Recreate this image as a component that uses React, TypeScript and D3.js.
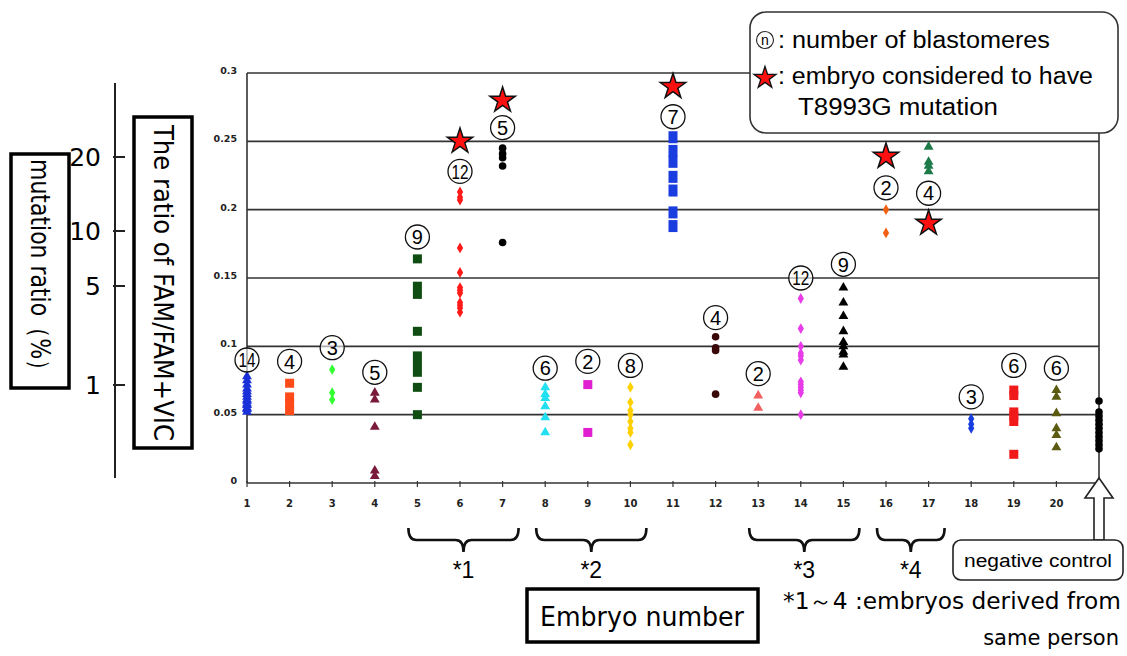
import React from "react";
import * as d3 from "d3";

const W = 1127;
const H = 656;

// embryo number -> marker / colour / values
const embryos = [1, 2, 3, 4, 5, 6, 7, 8, 9, 10, 11, 12, 13, 14, 15, 16, 17, 18, 19, 20];
const shapes = [
  "tri", "sq", "dia", "tri", "sq", "dia", "cir", "tri", "sq", "dia",
  "rect", "cir", "tri", "dia", "tri", "dia", "tri", "dia", "sq", "tri"
];
const colors = [
  "#1a30d8", "#ff4a1a", "#33ff33", "#7a1a3a", "#0f4d12", "#ff1a1a", "#000000", "#22e0f0", "#e020d0", "#ffd000",
  "#1a3de0", "#3a0808", "#f06060", "#e83ce8", "#000000", "#f06010", "#1f7a4a", "#1a3de0", "#f01a1a", "#5a5a10"
];
const values: number[][] = [
  [0.052, 0.054, 0.055, 0.057, 0.058, 0.06, 0.061, 0.063, 0.065, 0.067, 0.069, 0.072, 0.075, 0.078],
  [0.073, 0.063, 0.058, 0.053],
  [0.083, 0.066, 0.061],
  [0.066, 0.061, 0.041, 0.009, 0.005],
  [0.164, 0.144, 0.138, 0.111, 0.093, 0.087, 0.081, 0.07, 0.05],
  [0.213, 0.209, 0.207, 0.172, 0.154, 0.143, 0.141, 0.139, 0.132, 0.13, 0.128, 0.125],
  [0.245, 0.241, 0.238, 0.232, 0.176],
  [0.07, 0.065, 0.062, 0.056, 0.048, 0.037],
  [0.072, 0.037],
  [0.07, 0.059, 0.053, 0.05, 0.045, 0.04, 0.037, 0.028],
  [0.253, 0.243, 0.235, 0.224, 0.214, 0.198, 0.188],
  [0.107, 0.099, 0.097, 0.065],
  [0.064, 0.055],
  [0.135, 0.113, 0.1, 0.095, 0.093, 0.09, 0.074, 0.072, 0.07, 0.068, 0.066, 0.05],
  [0.143, 0.132, 0.122, 0.111, 0.103, 0.1, 0.096, 0.094, 0.085],
  [0.2, 0.183],
  [0.246, 0.235, 0.232, 0.228],
  [0.047, 0.043, 0.04],
  [0.068, 0.064, 0.052, 0.049, 0.045, 0.021],
  [0.068, 0.063, 0.051, 0.04, 0.035, 0.026]
];
const blastomeres = [14, 4, 3, 5, 9, 12, 5, 6, 2, 8, 7, 4, 2, 12, 9, 2, 4, 3, 6, 6];
const labelAt = [
  0.09, 0.089, 0.099, 0.081, 0.18, 0.228, 0.26, 0.084, 0.089, 0.086,
  0.268, 0.121, 0.08, 0.15, 0.16, 0.216, 0.212, 0.063, 0.086, 0.084
];
const starEmbryos = [6, 7, 11, 16, 17];
const starValues = [0.25, 0.28, 0.29, 0.239, 0.19];
const negativeControl = [0.06, 0.052, 0.049, 0.046, 0.043, 0.04, 0.037, 0.034, 0.031, 0.028, 0.025];
const groupLabels = ["*1", "*2", "*3", "*4"];
const groupFrom = [5, 8, 13, 16];
const groupTo = [7, 10, 15, 17];
const yTicks = [0, 0.05, 0.1, 0.15, 0.2, 0.25, 0.3];
const pctTicks = [1, 5, 10, 20];

const x = d3.scaleLinear().domain([1, 21]).range([247, 1099]);
const y = d3.scaleLinear().domain([0, 0.3]).range([483, 73]);
// the % axis on the left is not linear in the original; map its ticks piecewise
const pct = d3.scaleLinear().domain([1, 5, 10, 20]).range([385, 286, 231, 157]);

const sans = "'Liberation Sans', Arial, sans-serif";
const tahoma = "'DejaVu Sans', Verdana, sans-serif";

const triangle = d3.symbol(d3.symbolTriangle, 42)();
const diamond = d3.symbol(d3.symbolDiamond, 34)();
const star = d3.symbol(d3.symbolStar, 200)();
const legendStar = d3.symbol(d3.symbolStar, 150)();

const Marker = ({ shape, cx, cy, color }: { shape: string; cx: number; cy: number; color: string }) => {
  if (shape === "tri") return <path d={triangle} transform={`translate(${cx},${cy})`} fill={color} />;
  if (shape === "dia") return <path d={diamond} transform={`translate(${cx},${cy})`} fill={color} />;
  if (shape === "cir") return <circle cx={cx} cy={cy} r={3.8} fill={color} />;
  if (shape === "rect") return <rect x={cx - 4.5} y={cy - 6} width={9} height={12} fill={color} />;
  return <rect x={cx - 4.5} y={cy - 4.5} width={9} height={9} fill={color} />;
};

const brace = (x0: number, x1: number, top: number) => {
  const mid = (x0 + x1) / 2;
  const y1 = top + 12;
  const y2 = top + 24;
  const r = 8;
  return `M${x0},${top} Q${x0},${y1} ${x0 + r},${y1} L${mid - r},${y1} Q${mid},${y1} ${mid},${y2} Q${mid},${y1} ${mid + r},${y1} L${x1 - r},${y1} Q${x1},${y1} ${x1},${top}`;
};

export default function App() {
  const [x0, x1] = x.range();
  return (
    <svg width={W} height={H} style={{ display: "block", position: "absolute", left: 0, top: 0, background: "white" }}>
      <rect width={W} height={H} fill="white" />

      {/* left: % scale and the two rotated titles */}
      <line x1={115} x2={115} y1={83} y2={478} stroke="#222" strokeWidth={2} />
      {pctTicks.map((t) => (
        <g key={t}>
          <line x1={113} x2={125} y1={pct(t)} y2={pct(t)} stroke="#222" strokeWidth={2} />
          <text x={101} y={pct(t)} dy="0.36em" textAnchor="end" fontFamily={tahoma} fontSize={25}>
            {t}
          </text>
        </g>
      ))}
      <rect x={11} y={154} width={58} height={234} fill="none" stroke="#000" strokeWidth={3.5} />
      <text
        transform="translate(40,270) rotate(90)"
        textAnchor="middle"
        dy="0.35em"
        fontFamily={tahoma}
        fontSize={26}
        textLength={222}
        lengthAdjust="spacingAndGlyphs"
      >
        mutation ratio（%）
      </text>
      <rect x={134} y={117} width={58} height={331} fill="none" stroke="#000" strokeWidth={3.5} />
      <text
        transform="translate(163,283) rotate(90)"
        textAnchor="middle"
        dy="0.35em"
        fontFamily={tahoma}
        fontSize={26}
        textLength={316}
        lengthAdjust="spacingAndGlyphs"
      >
        The ratio of FAM/FAM+VIC
      </text>

      {/* grid and frame */}
      {yTicks.map((t) => (
        <g key={t}>
          {t > 0 && <line x1={x0} x2={x1} y1={y(t)} y2={y(t)} stroke="#333" strokeWidth={1.6} />}
          <text x={237} y={y(t)} dy="0.1em" textAnchor="end" fontFamily={tahoma} fontWeight="bold" fontSize={9.5} fill="#222">
            {t}
          </text>
        </g>
      ))}
      <line x1={x0} x2={x1} y1={y(0)} y2={y(0)} stroke="#333" strokeWidth={1.6} />
      <line x1={x0} x2={x0} y1={y(0.3)} y2={y(0)} stroke="#333" strokeWidth={1.6} />
      <line x1={x1} x2={x1} y1={y(0.3)} y2={y(0)} stroke="#333" strokeWidth={1.6} />
      {embryos.map((e) => (
        <g key={e}>
          <line x1={x(e)} x2={x(e)} y1={y(0) - 2} y2={y(0) + 4} stroke="#333" strokeWidth={1.2} />
          <text x={x(e)} y={507} textAnchor="middle" fontFamily={tahoma} fontWeight="bold" fontSize={10} fill="#222">
            {e}
          </text>
        </g>
      ))}

      {/* points */}
      {embryos.map((e, i) =>
        values[i].map((v, j) => <Marker key={`${e}-${j}`} shape={shapes[i]} cx={x(e)} cy={y(v)} color={colors[i]} />)
      )}
      {negativeControl.map((v, j) => (
        <circle key={j} cx={x(21)} cy={y(v)} r={3.8} fill="#000" />
      ))}

      {/* circled blastomere counts */}
      {embryos.map((e, i) => (
        <g key={e} transform={`translate(${x(e)},${y(labelAt[i])})`}>
          <circle r={12} fill="white" fillOpacity={0.6} stroke="#111" strokeWidth={1.3} />
          <text
            textAnchor="middle"
            dy="0.36em"
            fontFamily={sans}
            fontSize={20}
            textLength={blastomeres[i] > 9 ? 17 : undefined}
            lengthAdjust="spacingAndGlyphs"
          >
            {blastomeres[i]}
          </text>
        </g>
      ))}

      {/* stars */}
      {starEmbryos.map((e, i) => (
        <path key={e} d={star} transform={`translate(${x(e)},${y(starValues[i])})`} fill="#ff1010" stroke="#111" strokeWidth={1.5} />
      ))}

      {/* legend */}
      <rect x={750} y={12} width={368} height={121} rx={16} fill="white" stroke="#333" strokeWidth={1.6} />
      <circle cx={765} cy={40} r={8.5} fill="none" stroke="#222" strokeWidth={1.1} />
      <text x={765} y={40} dy="0.33em" textAnchor="middle" fontFamily={sans} fontSize={14}>n</text>
      <text x={778} y={48} fontFamily={sans} fontSize={23} textLength={272} lengthAdjust="spacingAndGlyphs">
        : number of blastomeres
      </text>
      <path d={legendStar} transform="translate(765,78)" fill="#ff1010" stroke="#111" strokeWidth={1.3} />
      <text x={778} y={84} fontFamily={sans} fontSize={23} textLength={315} lengthAdjust="spacingAndGlyphs">
        : embryo considered to have
      </text>
      <text x={798} y={115} fontFamily={sans} fontSize={23} textLength={200} lengthAdjust="spacingAndGlyphs">
        T8993G mutation
      </text>

      {/* groups */}
      {groupLabels.map((g, i) => {
        const a = x(groupFrom[i]) - 9;
        const b = x(groupTo[i]) + 16;
        return (
          <g key={g}>
            <path d={brace(a, b, 528)} fill="none" stroke="#111" strokeWidth={2.6} />
            <text x={(a + b) / 2} y={578} textAnchor="middle" fontFamily={sans} fontSize={23}>
              {g}
            </text>
          </g>
        );
      })}

      {/* negative control arrow and box */}
      <path
        d={`M${x(21)},478 L${x(21) + 14},498 L${x(21) + 5},498 L${x(21) + 5},540 L${x(21) - 5},540 L${x(21) - 5},498 L${x(21) - 14},498 Z`}
        fill="white"
        stroke="#222"
        strokeWidth={1.6}
      />
      <rect x={953} y={540} width={170} height={40} rx={8} fill="white" stroke="#222" strokeWidth={1.6} />
      <text x={1038} y={567} textAnchor="middle" fontFamily={sans} fontSize={18} textLength={148} lengthAdjust="spacingAndGlyphs">
        negative control
      </text>

      {/* x title and footnote */}
      <rect x={527} y={589} width={231} height={53} fill="none" stroke="#000" strokeWidth={3.5} />
      <text x={642} y={626} textAnchor="middle" fontFamily={tahoma} fontSize={26} textLength={204} lengthAdjust="spacingAndGlyphs">
        Embryo number
      </text>
      <text x={783} y={609} fontFamily={tahoma} fontSize={23} textLength={338} lengthAdjust="spacingAndGlyphs">
        *1～4 :embryos derived from
      </text>
      <text x={1119} y={645} textAnchor="end" fontFamily={tahoma} fontSize={21}>
        same person
      </text>
    </svg>
  );
}
